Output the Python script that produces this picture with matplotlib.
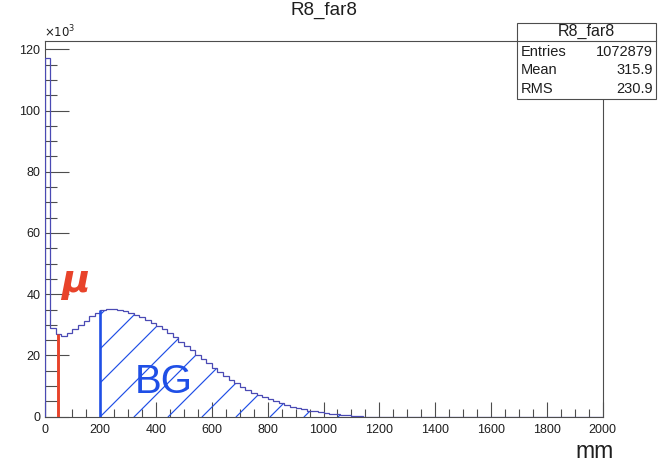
import numpy as np
import matplotlib
matplotlib.use("Agg")
import matplotlib.pyplot as plt
from matplotlib.patches import Rectangle
from matplotlib.lines import Line2D
from matplotlib.ticker import MultipleLocator

plt.rcParams['font.family'] = ['Liberation Sans', 'DejaVu Sans']

# histogram R8_far8: 100 bins of 20 mm, counts in units of 10^3
bin_edges = np.linspace(0, 2000, 101)
counts_k = [
    117.0, 28.9, 27.0, 26.5, 27.2, 28.6, 30.0, 31.3, 32.8, 34.0,
    34.8, 35.1, 35.2, 35.0, 34.6, 34.0, 33.3, 32.5, 31.6, 30.6,
    29.6, 28.5, 27.2, 25.9, 24.5, 23.1, 21.7, 20.2, 18.8, 17.4,
    16.0, 14.7, 13.4, 12.1, 10.9, 9.8, 8.8, 7.9, 7.1, 6.4,
    5.7, 5.0, 4.4, 3.8, 3.3, 2.8, 2.4, 2.0, 1.7, 1.4,
    1.15, 0.95, 0.8, 0.65, 0.5, 0.35, 0.15,
] + [0.0] * 43

hist_title = "R8_far8"
stats_names = ["Entries", "Mean", "RMS"]
stats_values = ["1072879", "315.9", "230.9"]

mu_cut = 48      # mm, muon marker
bg_start = 200   # mm, start of background region

W, H = 665, 471
fig = plt.figure(figsize=(W / 100, H / 100), dpi=100)
ax = fig.add_axes([44.5 / W, 1 - 416.7 / H, 558 / W, 376 / H])

frame_col = "#4d4d4d"
text_col = "#1e1e1e"
hist_col = "#4a4ab4"
blue = "#1f4fe6"
red = "#e8432a"

counts_k = np.array(counts_k)
ax.stairs(counts_k, bin_edges, color=hist_col, lw=0.9, zorder=3)

# hatched background region (x >= 200 mm under the histogram)
sel = bin_edges[:-1] >= bg_start
edges_bg = np.append(bin_edges[:-1][sel], bin_edges[1:][sel][-1])
vals_bg = np.append(counts_k[sel], counts_k[sel][-1])
poly = ax.fill_between(edges_bg, vals_bg, step="post",
                       facecolor="none", edgecolor="none")
clip = poly.get_paths()[0]

ax_w, ax_h = 558.0, 376.0
spacing = 34.0 / ax_w
x0 = bg_start / 2000
for k in range(-20, 30):
    xs = x0 + k * spacing
    ln = Line2D([xs, xs + ax_h / ax_w], [0, 1], transform=ax.transAxes,
                color=blue, lw=0.85, zorder=2)
    ax.add_line(ln)
    ln.set_clip_path(clip, ax.transData)

# marker lines
mu_h = counts_k[np.searchsorted(bin_edges, mu_cut) - 1]
bg_h = counts_k[np.searchsorted(bin_edges, bg_start)]
ax.vlines(mu_cut, 0, mu_h, color=red, lw=2.1, zorder=4)
ax.vlines(bg_start, 0, bg_h, color=blue, lw=1.9, zorder=4)

ax.text(109, 44.3, "μ", color=red, fontsize=28, family="DejaVu Sans",
        style="italic", weight="bold", ha="center", va="center", zorder=5)
ax.text(428, 11.2, "BG", color=blue, fontsize=29,
        ha="center", va="center", zorder=5)

ax.set_xlim(0, 2000)
ax.set_ylim(0, 122.8)
ax.xaxis.set_major_locator(MultipleLocator(200))
ax.xaxis.set_minor_locator(MultipleLocator(50))
ax.yaxis.set_major_locator(MultipleLocator(20))
ax.yaxis.set_minor_locator(MultipleLocator(5))
ax.tick_params(axis="both", which="both", direction="in", colors=frame_col,
               labelcolor=text_col, labelsize=9, width=0.8)
ax.tick_params(axis="x", which="major", length=11, pad=5)
ax.tick_params(axis="x", which="minor", length=5.5)
ax.tick_params(axis="y", which="major", length=17, pad=3)
ax.tick_params(axis="y", which="minor", length=8.5)
for s in ax.spines.values():
    s.set_color(frame_col)
    s.set_linewidth(0.8)

fig.text(44 / W, 1 - 37 / H, r"$\times10^{3}$", fontsize=8.5,
         color=text_col, ha="left", va="baseline")
fig.text(324 / W, 1 - 10 / H, hist_title, fontsize=13.5, color=text_col,
         ha="center", va="center")
fig.text(614 / W, 1 - 452 / H, "mm", fontsize=16.5, color=text_col,
         ha="right", va="center")

# stats box
bx0, bx1, by0, by1 = 517.3, 656.0, 22.7, 98.7
fig.add_artist(Rectangle((bx0 / W, 1 - by1 / H), (bx1 - bx0) / W,
                         (by1 - by0) / H, transform=fig.transFigure,
                         facecolor="white", edgecolor=frame_col, lw=0.8,
                         zorder=10))
fig.add_artist(Line2D([bx0 / W, bx1 / W], [1 - 40.5 / H, 1 - 40.5 / H],
                      transform=fig.transFigure, color=frame_col, lw=0.8,
                      zorder=11))
fig.text((bx0 + bx1) / 2 / W, 1 - 31.5 / H, hist_title, fontsize=11.5,
         color=text_col, ha="center", va="center", zorder=12)
for i, (name, val) in enumerate(zip(stats_names, stats_values)):
    yy = 1 - (52.5 + 18 * i) / H
    fig.text((bx0 + 3) / W, yy, name, fontsize=10.5, color=text_col,
             ha="left", va="center", zorder=12)
    fig.text((bx1 - 3) / W, yy, val, fontsize=10.5, color=text_col,
             ha="right", va="center", zorder=12)

fig.savefig("out.png", dpi=100)
